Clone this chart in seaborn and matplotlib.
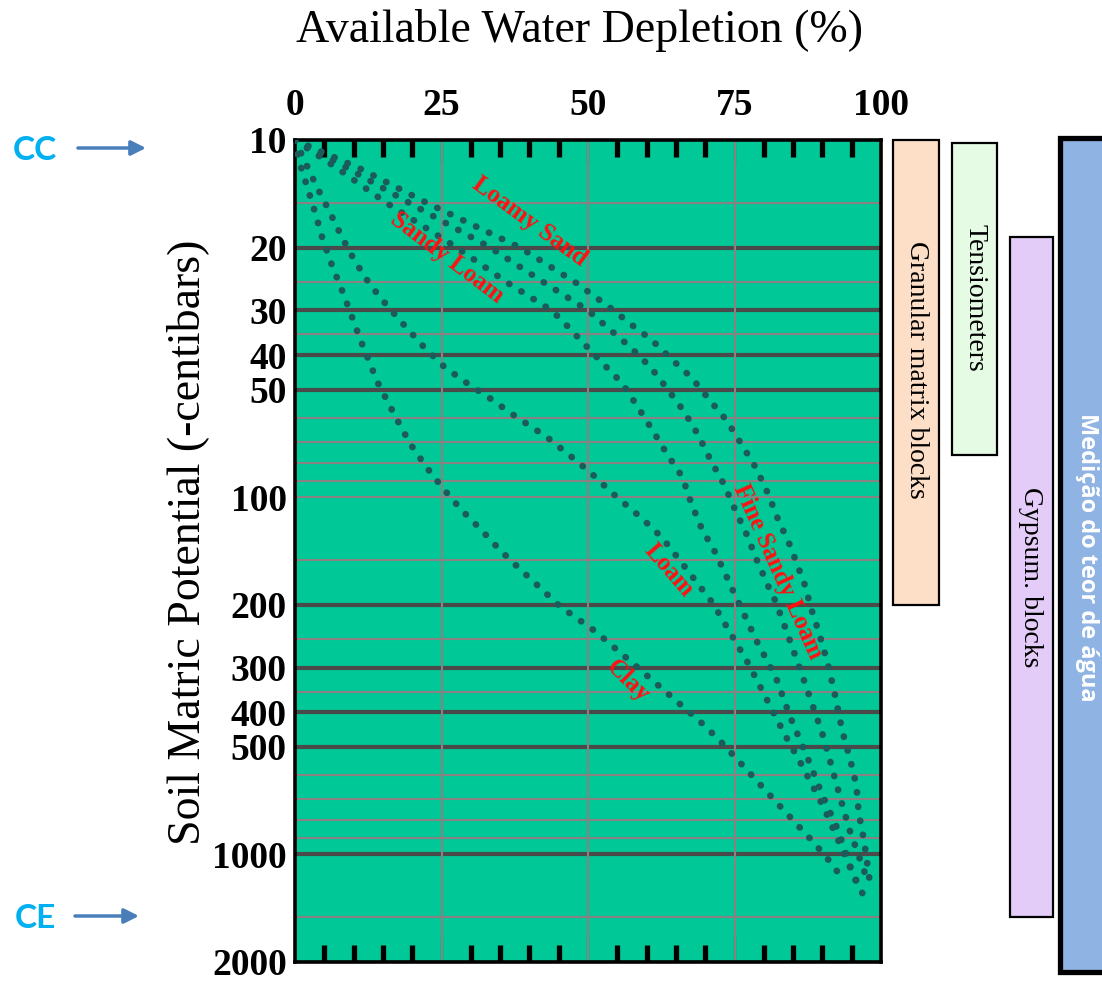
import matplotlib
matplotlib.use("Agg")
import matplotlib.pyplot as plt
import seaborn as sns
from matplotlib.ticker import MultipleLocator, NullLocator

sns.set_theme(style="white")
plt.rcParams["font.family"] = ["Liberation Serif", "DejaVu Serif"]
plt.rcParams["text.color"] = "black"
plt.rcParams["xtick.color"] = "black"
plt.rcParams["ytick.color"] = "black"

# Soil moisture release curves: matric potential (-cb) vs available water depletion (%)
clay_cb = [10, 11.3, 13.4, 15.9, 18.9, 22.4, 26.3, 31.2, 37.1, 47.7, 60.6, 71, 82.3,
           94.6, 108.5, 123, 140.7, 159, 179, 202, 237, 298, 424, 480, 713, 929, 1062, 1145]
clay_dep = [0, 0.6, 2.0, 3.4, 4.7, 6.3, 8.0, 9.7, 11.4, 14.1, 17.4, 19.7, 22.4,
            25.3, 28.4, 31.7, 35.0, 38.4, 41.8, 45.2, 51.2, 58.3, 69.1, 72.5, 82.1, 88.6, 91.6, 93.0]

loam_cb = [10, 11.5, 13.5, 16, 18.7, 21.8, 25.4, 29.2, 33.5, 38.3, 43.2, 48, 52.9, 58.6,
           67.9, 76.2, 85.5, 96.6, 114.6, 129.5, 149, 198, 291, 469, 551, 737, 1028, 1208]
loam_dep = [0, 1.7, 3.7, 6.0, 8.0, 10.2, 12.8, 15.8, 19.0, 22.2, 25.5, 29.4, 33.3, 37.1,
            43.0, 46.8, 50.5, 53.9, 59.2, 62.6, 65.5, 71.3, 77.3, 83.8, 86.2, 90.2, 94.1, 95.9]

sandy_loam_cb = [10, 12, 15, 20, 25, 30, 32.3, 36.7, 42, 47.9, 55.6, 64.5, 75.3, 87.8,
                 103.7, 122.4, 142.6, 167.5, 182, 253, 320.6, 412, 528, 676, 857, 1109, 1303]
sandy_loam_dep = [0, 7.2, 15.6, 27.6, 36.1, 43.8, 45.8, 49.0, 52.4, 55.8, 58.4, 60.9, 63.4, 66.1,
                  67.6, 69.4, 71.7, 73.7, 74.7, 78.8, 82.1, 84.5, 87.3, 89.9, 92.7, 95.0, 97.0]

fine_sandy_loam_cb = [10, 12, 15, 20, 25, 30, 33.9, 38.1, 43.3, 49.9, 57.6, 66.9, 78.6, 92,
                      108.4, 127.4, 149.8, 178, 194, 228, 297, 381, 465, 554, 717, 851, 1008, 1196]
fine_sandy_loam_dep = [0, 9, 19.5, 33.3, 42.4, 50.0, 53.7, 57.3, 60.7, 63.6, 66.4, 68.8, 70.9, 73.2,
                       75.1, 77.1, 78.8, 80.8, 81.9, 83.5, 86.0, 88.3, 90.1, 91.4, 93.3, 94.6, 96.2, 97.8]

loamy_sand_cb = [10, 12, 15, 20, 25, 30, 32.5, 36.2, 41, 46.3, 53.3, 60.8, 71.1, 83,
                 97.6, 115, 135.6, 174, 207.6, 245, 292, 348, 452, 539, 640, 765, 913, 1196]
loamy_sand_dep = [0, 11, 22.5, 38.4, 47.8, 54.4, 57.0, 60.8, 64.2, 67.7, 70.7, 73.6, 76.2, 78.7,
                  80.7, 82.4, 84.4, 86.9, 88.2, 89.6, 90.9, 92.0, 93.4, 94.7, 95.8, 96.2, 97.1, 98.1]

x_ticks = [0, 25, 50, 75, 100]
x_tick_labels = ["0", "25", "50", "75", "100"]
y_ticks = [10, 20, 30, 40, 50, 100, 200, 300, 400, 500, 1000, 2000]
y_tick_labels = ["10", "20", "30", "40", "50", "100", "200", "300", "400", "500", "1000", "2000"]
major_levels = [20, 30, 40, 50, 200, 300, 400, 500, 1000]
minor_levels = [15, 25, 35, 60, 70, 80, 90, 100, 150, 250, 350, 600, 700, 800, 900, 1500]

# Measurement ranges of the instruments (-cb)
instruments = ["Granular matrix blocks", "Tensiometers", "Gypsum. blocks", "Medição do teor de água"]
range_low = [10, 10.2, 18.7, 9.87]
range_high = [200, 76, 1500, 2140]

W, H = 1102, 984
fig = plt.figure(figsize=(W / 100, H / 100), dpi=100)


def px_rect(x0, y0, x1, y1):
    return [x0 / W, 1 - y1 / H, (x1 - x0) / W, (y1 - y0) / H]


ax = fig.add_axes(px_rect(295, 140, 881, 962))
ax.set_facecolor("#00C896")
ax.set_yscale("log")

for lv in minor_levels:
    ax.axhline(lv, color="#8a8282", lw=1.5, zorder=1)
for lv in major_levels:
    ax.axhline(lv, color="#4a4a4a", lw=3.0, zorder=1)
for v in [25, 50, 75]:
    ax.axvline(v, color="#8a8282", lw=1.5, zorder=1)

dot_color = "#1b5b5c"
soils = [
    ("Clay", clay_dep, clay_cb),
    ("Loam", loam_dep, loam_cb),
    ("Sandy Loam", sandy_loam_dep, sandy_loam_cb),
    ("Fine Sandy Loam", fine_sandy_loam_dep, fine_sandy_loam_cb),
    ("Loamy Sand", loamy_sand_dep, loamy_sand_cb),
]
n_before = len(ax.lines)
for name, dep, cb in soils:
    sns.lineplot(x=dep, y=cb, ax=ax, color=dot_color, sort=False, estimator=None, zorder=3)
# dotted curves: round dots about 6-7 px wide, ~14 px apart
for line in ax.lines[n_before:]:
    line.set_linewidth(4.8)
    line.set_linestyle((0, (0.05, 2.1)))
    line.set_dash_capstyle("round")

ax.set_xlim(0, 100)
ax.set_ylim(2000, 10)
ax.set_xlabel("")
ax.set_ylabel("")

ax.set_xticks(x_ticks, labels=x_tick_labels, fontsize=27, fontweight="bold")
ax.xaxis.set_minor_locator(MultipleLocator(5))
ax.tick_params(axis="x", which="major", direction="in", top=True, bottom=True,
               labeltop=True, labelbottom=False, length=18, width=1.5, color="black", pad=12)
ax.tick_params(axis="x", which="minor", direction="in", top=True, bottom=True,
               length=12.5, width=3.8, color="black")
ax.set_yticks(y_ticks, labels=y_tick_labels, fontsize=27, fontweight="bold")
ax.yaxis.set_minor_locator(NullLocator())
ax.tick_params(axis="y", which="both", length=0, pad=6, left=True)
for s in ax.spines.values():
    s.set_color("black")
    s.set_linewidth(2.6)
    s.set_visible(True)

# Soil names along their curves
label_style = dict(color="#ff1010", fontsize=18, fontweight="bold", ha="center", va="center",
                   rotation_mode="anchor", zorder=4)
ax.text(40.1, 16.9, "Loamy Sand", rotation=-36, **label_style)
ax.text(25.9, 21.3, "Sandy Loam", rotation=-37, **label_style)
ax.text(82.4, 162, "Fine Sandy Loam", rotation=-66, **label_style)
ax.text(63.8, 160, "Loam", rotation=-49, **label_style)
ax.text(56.8, 327, "Clay", rotation=-44, **label_style)

# Instrument range bars on the right, same potential scale
ax2 = fig.add_axes(px_rect(885, 140, 1102, 962))
ax2.set_yscale("log")
ax2.set_xlim(885, 1102)
ax2.set_ylim(2000, 10)
ax2.axis("off")
bar_x = [916.5, 974.5, 1031.5, 1090]
bar_w = [46, 45, 43, 60]
bar_colors = ["#FDDEC6", "#E5FBE3", "#E3CCF8", "#8FB3E2"]
bar_lw = [1.6, 1.6, 1.6, 3.8]
heights = [hi - lo for lo, hi in zip(range_low, range_high)]
ax2.bar(bar_x, heights, bottom=range_low, width=bar_w, color=bar_colors,
        edgecolor="black", linewidth=bar_lw, clip_on=False)

# Overlay in pixel coordinates for titles and annotations
ov = fig.add_axes([0, 0, 1, 1])
ov.set_xlim(0, W)
ov.set_ylim(H, 0)
ov.axis("off")
ov.text(580, 30, "Available Water Depletion (%)", ha="center", va="center", fontsize=33)
ov.text(188, 542, "Soil Matric Potential (-centibars)", ha="center", va="center",
        rotation=90, fontsize=33)
ov.text(916, 370, instruments[0], ha="center", va="center", rotation=-90, fontsize=20)
ov.text(975, 298, instruments[1], ha="center", va="center", rotation=-90, fontsize=20)
ov.text(1031, 577, instruments[2], ha="center", va="center", rotation=-90, fontsize=20)
ov.text(1087, 557, instruments[3], ha="center", va="center", rotation=-90, fontsize=17,
        color="white", fontweight="bold", family=["Open Sans", "DejaVu Sans"])

ov.text(35, 150, "CC", ha="center", va="center", fontsize=24, fontweight="bold",
        color="#00B0F0", family=["Lato", "DejaVu Sans"])
ov.text(35, 918, "CE", ha="center", va="center", fontsize=24, fontweight="bold",
        color="#00B0F0", family=["Lato", "DejaVu Sans"])
arrow = dict(arrowstyle="-|>", color="#4A7EBB", lw=2.5, mutation_scale=22, shrinkA=0, shrinkB=0)
ov.annotate("", xy=(146, 148), xytext=(78, 148), arrowprops=arrow)
ov.annotate("", xy=(139, 916), xytext=(75, 916), arrowprops=arrow)

fig.savefig("out.png", dpi=100)
